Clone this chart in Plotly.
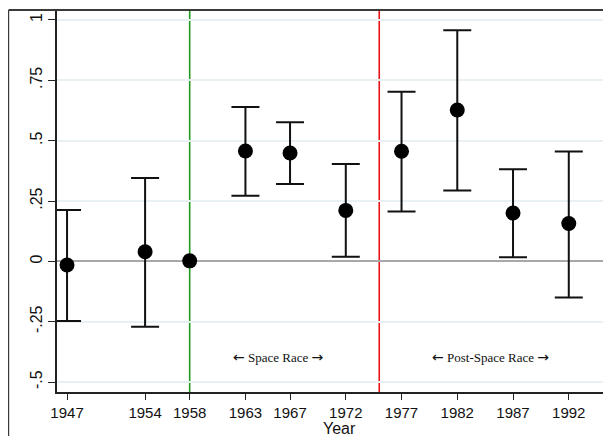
import plotly.graph_objects as go

# ---- data ----
years = [1947, 1954, 1958, 1963, 1967, 1972, 1977, 1982, 1987, 1992]
coef = [-0.015, 0.040, 0.002, 0.457, 0.449, 0.211, 0.456, 0.627, 0.200, 0.157]
lower = [-0.247, -0.271, None, 0.272, 0.320, 0.019, 0.206, 0.294, 0.017, -0.150]
upper = [0.213, 0.345, None, 0.639, 0.576, 0.403, 0.703, 0.958, 0.382, 0.455]

ytick_vals = [-0.5, -0.25, 0, 0.25, 0.5, 0.75, 1]
ytick_text = ["-.5", "-.25", "0", ".25", ".5", ".75", "1"]
xtick_vals = years
xtick_text = [str(y) for y in years]

space_race_start = 1958
post_space_start = 1975
label_space = "Space Race"
label_post = "Post-Space Race"
label_space_x = 1966
label_post_x = 1985
label_y = -0.395

# ---- figure ----
W, H = 611, 436
ML, MR, MT, MB = 49, 0, 2, 52

fig = go.Figure()

ci_idx = [i for i in range(len(years)) if lower[i] is not None]
noci_idx = [i for i in range(len(years)) if lower[i] is None]

fig.add_trace(go.Scatter(
    x=[years[i] for i in ci_idx],
    y=[coef[i] for i in ci_idx],
    mode="markers",
    marker=dict(color="black", size=15),
    error_y=dict(type="data", symmetric=False,
                 array=[upper[i] - coef[i] for i in ci_idx],
                 arrayminus=[coef[i] - lower[i] for i in ci_idx],
                 color="#111111", thickness=2, width=14),
    showlegend=False, hoverinfo="x+y",
))
fig.add_trace(go.Scatter(
    x=[years[i] for i in noci_idx],
    y=[coef[i] for i in noci_idx],
    mode="markers",
    marker=dict(color="black", size=15),
    showlegend=False, hoverinfo="x+y",
))

plot_w = W - ML - MR
frame_x = (0.6 - ML) / plot_w

shapes = [
    dict(type="line", xref="x", yref="paper", x0=space_race_start, x1=space_race_start,
         y0=0, y1=1, line=dict(color="#1f9a1f", width=1.6), layer="between"),
    dict(type="line", xref="x", yref="paper", x0=post_space_start, x1=post_space_start,
         y0=0, y1=1, line=dict(color="#e8141a", width=1.6), layer="between"),
    # outer graph frame (cropped)
    dict(type="line", xref="paper", yref="paper", x0=frame_x, x1=1.01, y0=1, y1=1,
         line=dict(color="#3a3a3a", width=2)),
    dict(type="line", xref="paper", yref="paper", x0=frame_x, x1=frame_x, y0=1, y1=-0.2,
         line=dict(color="#3a3a3a", width=1.2)),
]

serif = "Liberation Serif, Times New Roman, serif"
arrow_l = '<span style="font-family:DejaVu Sans;font-size:14px">\u2190</span>'
arrow_r = '<span style="font-family:DejaVu Sans;font-size:14px">\u2192</span>'
annotations = [
    dict(x=label_space_x, y=label_y, xref="x", yref="y",
         text=f"{arrow_l} {label_space} {arrow_r}", showarrow=False,
         font=dict(family=serif, size=13, color="#111111")),
    dict(x=label_post_x, y=label_y, xref="x", yref="y",
         text=f"{arrow_l} {label_post} {arrow_r}", showarrow=False,
         font=dict(family=serif, size=13, color="#111111")),
    dict(x=0.502, y=0, xref="paper", yref="paper", yshift=-36, yanchor="middle",
         text="Year", showarrow=False,
         font=dict(family="Liberation Sans, Arial, sans-serif", size=16, color="#111111")),
]

fig.update_layout(
    width=W, height=H,
    margin=dict(l=ML, r=MR, t=MT, b=MB, pad=0, autoexpand=False),
    paper_bgcolor="white", plot_bgcolor="white",
    shapes=shapes, annotations=annotations,
    font=dict(family="Liberation Sans, Arial, sans-serif", size=15, color="#111111"),
    xaxis=dict(range=[1946.1, 1946.1 + 562 / 11.15], tickmode="array", tickvals=xtick_vals,
               ticktext=xtick_text, ticks="outside", ticklen=6, tickwidth=1.3,
               tickcolor="#222222", showgrid=False, zeroline=False, automargin=False,
               showline=True, linecolor="#222222", linewidth=1.6),
    yaxis=dict(range=[-0.5414, 1.0414], tickmode="array", tickvals=ytick_vals,
               ticktext=ytick_text, tickangle=-90, ticks="outside", ticklen=7,
               tickwidth=1.3, tickcolor="#222222", automargin=False,
               tickfont=dict(size=16),
               showgrid=True, gridcolor="#e9f0f3", gridwidth=1.5,
               zeroline=True, zerolinecolor="#a8a8a8", zerolinewidth=2,
               showline=True, linecolor="#222222", linewidth=1.6),
)

fig.write_html("out.html")
